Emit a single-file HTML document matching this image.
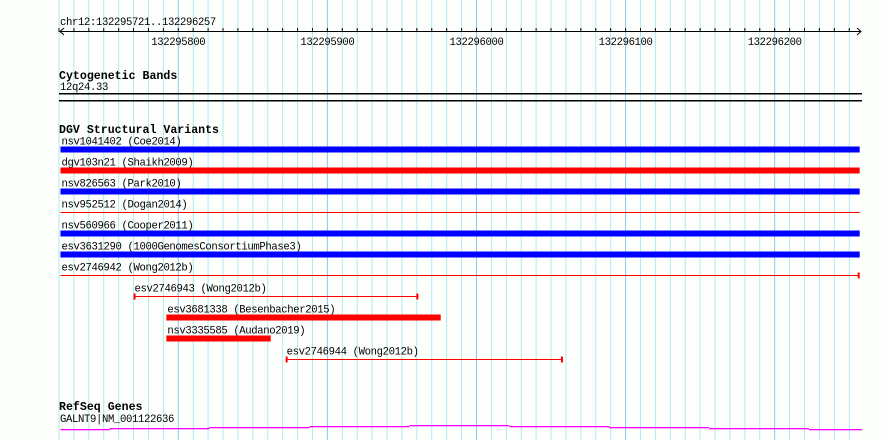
<!DOCTYPE html>
<html><head><meta charset="utf-8"><style>
html,body{margin:0;padding:0;background:#fdfffd;}
svg{display:block;}
text{font-family:"Liberation Mono",monospace;font-size:10.6px;letter-spacing:-0.36px;fill:#000;}
.t{font-weight:bold;font-size:11.6px;letter-spacing:0;}
</style></head><body>
<svg id="c" width="890" height="440" viewBox="0 0 890 440">
<rect x="0" y="0" width="890" height="440" fill="#fdfffd"/>
<g id="grid"></g>
<g id="axis"></g>
<text x="60" y="25">chr12:132295721..132296257</text>
<text class="t" x="59" y="79">Cytogenetic Bands</text>
<text x="60" y="90">12q24.33</text>
<rect x="59" y="93" width="803" height="1.5" fill="#000"/>
<rect x="59" y="100" width="803" height="1.5" fill="#000"/>
<text class="t" x="59" y="133">DGV Structural Variants</text>
<g id="vars"></g>
<text class="t" x="59" y="410">RefSeq Genes</text>
<text x="60" y="422">GALNT9|NM_001122636</text>
<g id="gene"></g>
</svg>
<script>
const START = 132295720;
const END = 132296258;
const majorTicks = [132295800, 132295900, 132296000, 132296100, 132296200];
const varNames = ["nsv1041402 (Coe2014)","dgv103n21 (Shaikh2009)","nsv826563 (Park2010)","nsv952512 (Dogan2014)","nsv560966 (Cooper2011)","esv3631290 (1000GenomesConsortiumPhase3)","esv2746942 (Wong2012b)","esv2746943 (Wong2012b)","esv3681338 (Besenbacher2015)","nsv3335585 (Audano2019)","esv2746944 (Wong2012b)"];
const varStarts = [132295721,132295721,132295721,132295721,132295721,132295721,132295721,132295770,132295792,132295792,132295872];
const varEnds = [132296257,132296257,132296257,132296257,132296257,132296257,132296257,132295961,132295976,132295862,132296058];
const varColors = ["blue","red","blue","red","blue","blue","red","red","red","red","red"];
const varStyles = ["thick","thick","thick","thin","thick","thick","capright","cap","thick","thick","cap"];
const geneStarts = [132295721,132295754,132295821,132295888,132295955,132296022,132296089,132296156,132296223];
const geneLevels = [0,1,2,3,4,3,2,1,0];

const NS="http://www.w3.org/2000/svg";
const sc = 1.491;
function x(b){return 59+(b-START)*sc;}
function mk(tag,attrs,parent){const e=document.createElementNS(NS,tag);for(const k in attrs)e.setAttribute(k,attrs[k]);parent.appendChild(e);return e;}
const grid=document.getElementById('grid'), axis=document.getElementById('axis');
for(let b=START;b<=END;b+=10){
  const xx=x(b), maj=(b%100===0);
  const l=mk('rect',{x:xx-0.5,y:0,width:1,height:440,fill:maj?'#8cc8ec':'#aeeaf0'},grid);
  
  
  const t=mk('rect',{x:xx-0.5,y:28,width:1,height:4,fill:'#000'},axis);
  
  
}
const al=mk('rect',{x:60,y:31,width:801,height:1,fill:'#000'},axis);


const ar=mk('path',{d:'M64 28 L60 31.5 L64 35 M857 28 L861 31.5 L857 35',stroke:'#000',fill:'none','stroke-width':1},axis);


majorTicks.forEach(b=>{
  const t=mk('text',{x:x(b),y:45,'text-anchor':'middle'},axis);
  t.textContent=String(b);
  
  
});
const vars=document.getElementById('vars');
varNames.forEach((n,i)=>{
  const cy=149.5+21*i, x1=x(varStarts[i]), x2=Math.min(x(varEnds[i]),862);
  const col=varColors[i]==='blue'?'#0000ff':'#ff0000';
  const lab=mk('text',{x:x1+1,y:cy-5},vars);
  lab.textContent=n;
  
  
  if(varStyles[i]==='thick'){
    const r=mk('rect',{x:x1,y:cy-3,width:x2-x1,height:6,fill:col},vars);
    
    
  } else {
    const r=mk('rect',{x:x1,y:cy-0.5,width:x2-x1,height:1,fill:col},vars);
    
    
    const caps = varStyles[i]==='cap' ? [x1,x2-2] : (varStyles[i]==='capright' ? [x2-2] : []);
    caps.forEach(cx=>{
      const c=mk('rect',{x:cx,y:cy-3,width:2,height:6,fill:col},vars);
      
      
    });
  }
});
const gene=document.getElementById('gene');
geneStarts.forEach((b,i)=>{
  const x1=x(b), x2=i<geneStarts.length-1?x(geneStarts[i+1]):862;
  const s=mk('rect',{x:x1,y:429-geneLevels[i],width:x2-x1,height:1.3,fill:'#ff00ff'},gene);
  
  
});
</script>
</body></html>
